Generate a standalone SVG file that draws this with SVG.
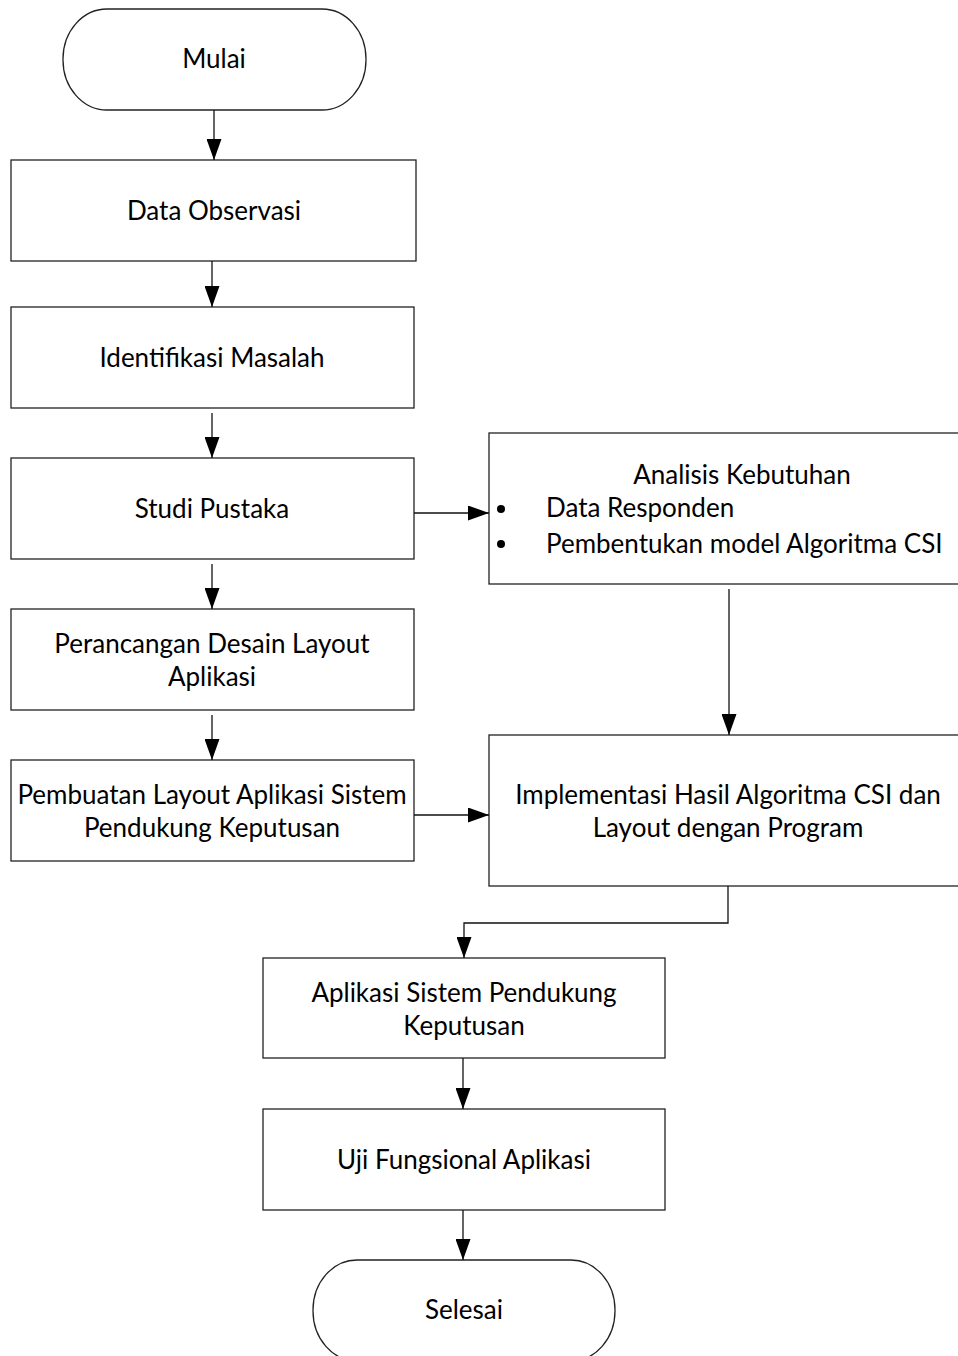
<svg xmlns="http://www.w3.org/2000/svg" width="958" height="1356" viewBox="0 0 958 1356">
  <style>
    .shape { fill: #ffffff; stroke: #222222; stroke-width: 1.3; }
    .lbl { font-family: Lato, "Open Sans", "Liberation Sans", sans-serif; font-size: 26px; fill: #000000; text-anchor: middle; }
    .lbl-l { font-family: Lato, "Open Sans", "Liberation Sans", sans-serif; font-size: 26px; fill: #000000; text-anchor: start; }
    .edge { fill: none; stroke: #111111; stroke-width: 1.3; marker-end: url(#arrow); }
  </style>
  <defs>
    <marker id="arrow" markerUnits="userSpaceOnUse" markerWidth="21" markerHeight="15" refX="21" refY="7.5" orient="auto">
      <path d="M0,0 L21,7.5 L0,15 Z" fill="#000000"/>
    </marker>
  </defs>
  <rect width="958" height="1356" fill="#ffffff"/>

  <g id="start">
    <rect class="shape" x="63" y="9" width="303" height="101" rx="44" ry="50"/>
    <text class="lbl" x="214" y="68">Mulai</text>
  </g>
  <g id="data-observasi">
    <rect class="shape" x="11" y="160" width="405" height="101"/>
    <text class="lbl" x="214" y="220">Data Observasi</text>
  </g>
  <g id="identifikasi-masalah">
    <rect class="shape" x="11" y="307" width="403" height="101"/>
    <text class="lbl" x="212" y="367">Identifikasi Masalah</text>
  </g>
  <g id="studi-pustaka">
    <rect class="shape" x="11" y="458" width="403" height="101"/>
    <text class="lbl" x="212" y="518">Studi Pustaka</text>
  </g>
  <g id="perancangan-desain">
    <rect class="shape" x="11" y="609" width="403" height="101"/>
    <text class="lbl" x="212" y="653">Perancangan Desain Layout</text>
    <text class="lbl" x="212" y="686">Aplikasi</text>
  </g>
  <g id="pembuatan-layout">
    <rect class="shape" x="11" y="760" width="403" height="101"/>
    <text class="lbl" x="212" y="804">Pembuatan Layout Aplikasi Sistem</text>
    <text class="lbl" x="212" y="837">Pendukung Keputusan</text>
  </g>
  <g id="analisis-kebutuhan">
    <rect class="shape" x="489" y="433" width="490" height="151"/>
    <text class="lbl" x="742" y="484">Analisis Kebutuhan</text>
    <circle cx="501" cy="509" r="4" fill="#000000"/>
    <text class="lbl-l" x="546" y="517">Data Responden</text>
    <circle cx="501" cy="544" r="4" fill="#000000"/>
    <text class="lbl-l" x="546" y="553">Pembentukan model Algoritma CSI</text>
  </g>
  <g id="implementasi">
    <rect class="shape" x="489" y="735" width="490" height="151"/>
    <text class="lbl" x="728" y="804">Implementasi Hasil Algoritma CSI dan</text>
    <text class="lbl" x="728" y="837">Layout dengan Program</text>
  </g>
  <g id="aplikasi-spk">
    <rect class="shape" x="263" y="958" width="402" height="100"/>
    <text class="lbl" x="464" y="1002">Aplikasi Sistem Pendukung</text>
    <text class="lbl" x="464" y="1035">Keputusan</text>
  </g>
  <g id="uji-fungsional">
    <rect class="shape" x="263" y="1109" width="402" height="101"/>
    <text class="lbl" x="464" y="1169">Uji Fungsional Aplikasi</text>
  </g>
  <g id="end">
    <rect class="shape" x="313" y="1260" width="302" height="101" rx="44" ry="50"/>
    <text class="lbl" x="464" y="1319">Selesai</text>
  </g>

  <g id="connectors">
    <line class="edge" x1="214" y1="110" x2="214" y2="160"/>
    <line class="edge" x1="212" y1="261" x2="212" y2="307"/>
    <line class="edge" x1="212" y1="413" x2="212" y2="458"/>
    <line class="edge" x1="212" y1="564" x2="212" y2="609"/>
    <line class="edge" x1="212" y1="715" x2="212" y2="760"/>
    <line class="edge" x1="414" y1="513" x2="489" y2="513"/>
    <line class="edge" x1="414" y1="815" x2="489" y2="815"/>
    <line class="edge" x1="729" y1="589" x2="729" y2="735"/>
    <polyline class="edge" points="728,886 728,923 464,923 464,958"/>
    <line class="edge" x1="463" y1="1058" x2="463" y2="1109"/>
    <line class="edge" x1="463" y1="1210" x2="463" y2="1260"/>
  </g>
</svg>
